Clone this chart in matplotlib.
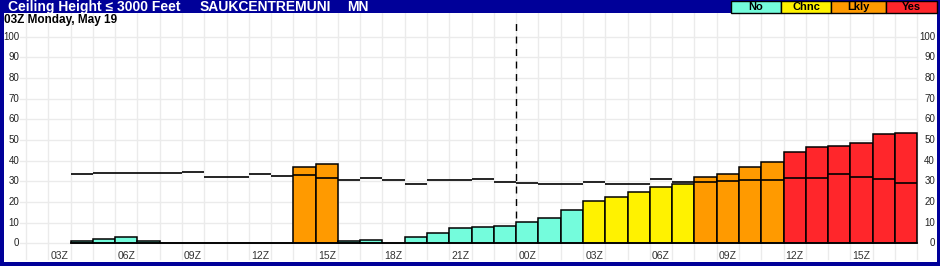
import numpy as np
import matplotlib
matplotlib.use("Agg")
from matplotlib import pyplot as plt
from matplotlib.patches import Rectangle

plt.rcParams["font.family"] = ["Liberation Sans", "DejaVu Sans"]

# data: one slot per hour, slot 0 = 02Z
start_hour = 2
n_slots = 40
bar_start = 2  # first slot with data (04Z)

prob = [1.1, 2.1, 2.9, 1.0, 0, 0, 0, 0, 0, 0, 36.9, 38.3,
        1.0, 1.6, 0, 2.9, 4.9, 7.3, 7.8, 8.3, 10.2, 12.1, 16.0,
        20.4, 22.3, 24.8, 27.2, 28.6, 32.0, 33.5, 36.9, 39.3,
        44.2, 46.6, 47.1, 48.5, 52.9, 53.4]
clim = [33.5, 34.0, 34.0, 34.0, 34.0, 34.5, 32.0, 32.0, 33.5, 32.5, 33.0, 31.5,
        30.6, 31.5, 30.6, 28.6, 30.6, 30.6, 31.0, 29.6, 29.1, 28.6, 28.6,
        29.9, 28.6, 28.6, 30.9, 29.9, 29.6, 30.1, 30.6, 30.6,
        31.5, 31.5, 33.5, 32.0, 31.1, 29.1]
cat = ["No"] * 10 + ["Lkly"] * 2 + ["No"] * 11 + ["Chnc"] * 5 + ["Lkly"] * 4 + ["Yes"] * 6

colors = {"No": "#74FCDC", "Chnc": "#FFF200", "Lkly": "#FF9A00", "Yes": "#FF262B"}
legend_names = ["No", "Chnc", "Lkly", "Yes"]

title_parts = ["Ceiling Height \u2264 3000 Feet", "SAUKCENTREMUNI", "MN"]
title_x = [8, 200, 347]
subtitle = "03Z Monday, May 19"
blue = "#000099"

W, H = 940, 266
fig = plt.figure(figsize=(W / 100, H / 100), dpi=100, facecolor=blue)

# main plot area (white panel)
ax = fig.add_axes([4 / W, 4 / H, 933 / W, 249 / H])
ax.set_facecolor("white")
x0 = 26.0
sw = 22.28
ax.set_xlim((4 - x0) / sw, (937 - x0) / sw)
ax.set_ylim(-9.05, 111.5)
for s in ax.spines.values():
    s.set_visible(False)
ax.set_xticks([])
ax.set_yticks([])

grid_c = "#EBEBEB"
for s in range(0, n_slots + 1):
    ax.plot([s, s], [-7.5, 111.5], color=grid_c, lw=1, zorder=0)
for v in range(0, 101, 10):
    ax.plot([-0.27, n_slots], [v, v], color=grid_c, lw=1, zorder=0)
    ax.text(-0.31, v, str(v), ha="right", va="center", fontsize=7, color="#222222")
    ax.text(40.8, v, str(v), ha="right", va="center", fontsize=7, color="#222222")

# dashed line at 00Z
ax.plot([22, 22], [0, 107], color="black", lw=1, ls=(0, (5, 4)), zorder=1)

# bars
xs = np.arange(bar_start, bar_start + len(prob))
ax.bar(xs, prob, width=1.0, align="edge",
       color=[colors[c] for c in cat], edgecolor="black", linewidth=1.1, zorder=2)
ax.plot([bar_start, n_slots], [0, 0], color="black", lw=1.2, zorder=3)

# climatology segments
ax.hlines(clim, xs, xs + 1, color="black", lw=1.2, zorder=3)

# hour labels
for s in range(n_slots):
    hr = (start_hour + s) % 24
    if hr % 3 == 0:
        ax.text(s + 0.5, -6.1, "%02dZ" % hr, ha="center", va="center",
                fontsize=7.5, color="#333333")

# header
for txt, xp in zip(title_parts, title_x):
    fig.text(xp / W, 1 - 7 / H, txt, color="white", fontsize=10, fontweight="bold",
             ha="left", va="center")
fig.text(4 / W, 1 - 20 / H, subtitle, color="black", fontsize=8.5, fontweight="bold",
         ha="left", va="center")

# legend boxes
edges = [731, 781, 831, 886, 937]
for i, name in enumerate(legend_names):
    xl, xr = edges[i], edges[i + 1]
    fig.patches.append(Rectangle((xl / W, 1 - 13 / H), (xr - xl) / W, 12 / H,
                                 transform=fig.transFigure, facecolor=colors[name],
                                 edgecolor="black", linewidth=1))
    fig.text((xl + xr) / 2 / W, 1 - 7 / H, name, color="black", fontsize=8,
             fontweight="bold", ha="center", va="center")

fig.savefig("out.png", dpi=100, facecolor=blue)
plt.close()
